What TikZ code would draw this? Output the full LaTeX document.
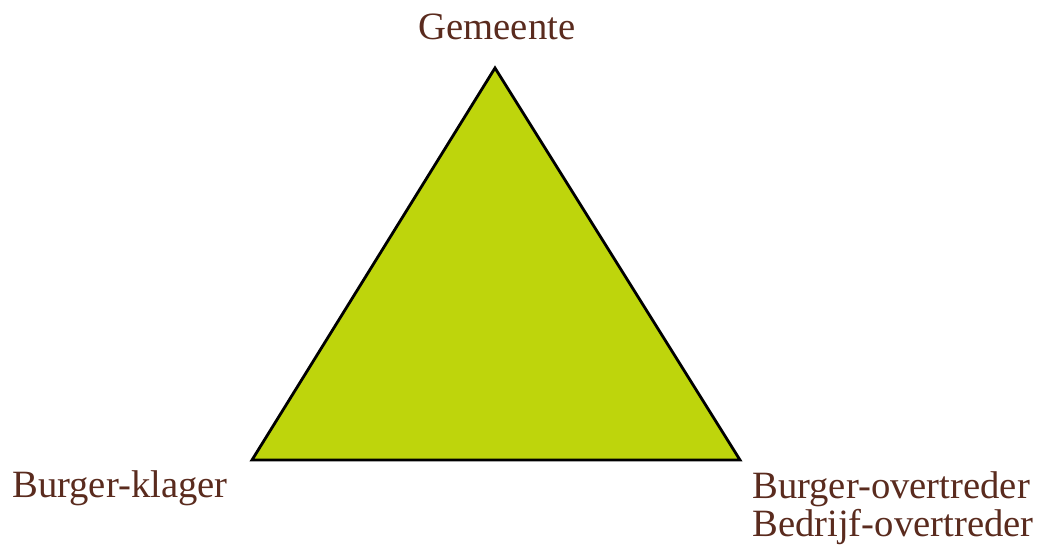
\documentclass[tikz,border=0pt]{standalone}
\usepackage{fontspec}
\setmainfont{Liberation Serif}
\usepackage{xcolor}
\usepackage{tikz}
\usetikzlibrary{positioning}
\definecolor{labelbrown}{HTML}{5A2B1E}
\definecolor{trianglegreen}{HTML}{BED50C}

\begin{document}
\begin{tikzpicture}[
x=0.02cm,
y=0.02cm,
every node/.style={font=\fontsize{22}{26}\selectfont,text=labelbrown},
party/.style={inner sep=0pt},
tri/.style={draw=black,line width=1.6pt,fill=trianglegreen,line join=miter}
]
\useasboundingbox (0,0) rectangle (1051,550);
\coordinate (top) at (495,482);
\coordinate (left) at (252,90);
\coordinate (right) at (740,90);
\draw[tri] (top) -- (left) -- (right) -- cycle;
\node[party,anchor=base] (gemeente) at (497,510) {Gemeente};
\node[party,anchor=base west] (klager) at (12,52) {Burger-klager};
\node[party,anchor=base west] (burgerovertreder) at (752,51) {Burger-overtreder};
\node[party,anchor=base west] (bedrijfovertreder) at (752,13) {Bedrijf-overtreder};
\end{tikzpicture}
\end{document}
